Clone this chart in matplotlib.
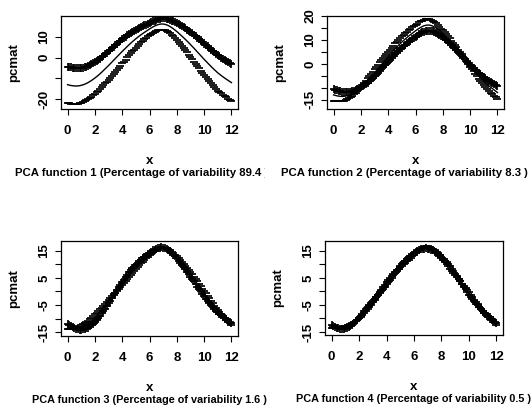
import numpy as np
import matplotlib
matplotlib.use("Agg")
import matplotlib.pyplot as plt
from matplotlib.transforms import Bbox, TransformedBbox

plt.rcParams['font.family'] = ['Liberation Sans', 'DejaVu Sans']

# evaluation grid (months)
months = np.arange(0, 12.001, 0.125)

# mean curve
mean_curve = [-13.0, -13.2, -13.4, -13.5, -13.6, -13.65, -13.6, -13.5, -13.3,
              -13.05, -12.8, -12.4, -12.0, -11.5, -11.0, -10.4, -9.8,
              -9.15, -8.5, -7.75, -7.0, -6.2, -5.4, -4.6, -3.8,
              -2.95, -2.1, -1.25, -0.4, 0.45, 1.3, 2.15, 3.0,
              3.8, 4.6, 5.4, 6.2, 6.95, 7.7, 8.4, 9.1,
              9.75, 10.4, 11.0, 11.6, 12.15, 12.7, 13.25, 13.8,
              14.3, 14.8, 15.2, 15.6, 15.9, 16.1, 16.2, 16.2,
              16.05, 15.8, 15.45, 15.0, 14.45, 13.9, 13.25, 12.6,
              11.85, 11.1, 10.35, 9.6, 8.8, 8.0, 7.15, 6.3,
              5.45, 4.6, 3.7, 2.8, 1.9, 1.0, 0.1, -0.8,
              -1.65, -2.5, -3.35, -4.2, -5.0, -5.8, -6.55, -7.3,
              -7.95, -8.6, -9.2, -9.8, -10.35, -10.9, -11.45, -12.0]

# perturbation (factor * PC function) for each component
pert1 = [8.7, 8.7, 8.7, 8.65, 8.6, 8.55, 8.5, 8.45, 8.4,
         8.3, 8.2, 8.1, 8.0, 7.9, 7.8, 7.7, 7.6,
         7.5, 7.4, 7.3, 7.2, 7.1, 7.0, 6.9, 6.8,
         6.7, 6.6, 6.5, 6.4, 6.25, 6.1, 5.95, 5.8,
         5.65, 5.5, 5.3, 5.1, 4.9, 4.7, 4.5, 4.3,
         4.1, 3.9, 3.7, 3.5, 3.35, 3.2, 3.05, 2.9,
         2.8, 2.7, 2.65, 2.6, 2.6, 2.6, 2.65, 2.7,
         2.8, 2.9, 3.05, 3.2, 3.4, 3.6, 3.8, 4.0,
         4.25, 4.5, 4.75, 5.0, 5.25, 5.5, 5.75, 6.0,
         6.25, 6.5, 6.7, 6.9, 7.1, 7.3, 7.45, 7.6,
         7.75, 7.9, 8.0, 8.1, 8.2, 8.3, 8.4, 8.5,
         8.55, 8.6, 8.65, 8.7, 8.75, 8.8, 8.8, 8.8]
pert2 = [2.4, 2.35, 2.3, 2.2, 2.1, 1.95, 1.8, 1.65, 1.5,
         1.3, 1.1, 0.9, 0.7, 0.5, 0.3, 0.1, -0.1,
         -0.3, -0.5, -0.7, -0.9, -1.05, -1.2, -1.35, -1.5,
         -1.6, -1.7, -1.8, -1.9, -1.95, -2.0, -2.05, -2.1,
         -2.15, -2.2, -2.25, -2.3, -2.3, -2.35, -2.35, -2.4,
         -2.4, -2.4, -2.45, -2.45, -2.5, -2.5, -2.5, -2.5,
         -2.5, -2.5, -2.5, -2.5, -2.5, -2.45, -2.4, -2.35,
         -2.25, -2.15, -2.05, -1.95, -1.8, -1.65, -1.5, -1.4,
         -1.3, -1.2, -1.1, -1.0, -0.9, -0.8, -0.7, -0.6,
         -0.5, -0.4, -0.3, -0.2, -0.05, 0.1, 0.25, 0.4,
         0.55, 0.7, 0.85, 1.0, 1.2, 1.4, 1.55, 1.7,
         1.85, 2.0, 2.15, 2.3, 2.4, 2.5, 2.6, 2.7]
pert3 = [0.9, 0.75, 0.6, 0.35, 0.1, -0.15, -0.4, -0.6, -0.8,
         -0.95, -1.1, -1.2, -1.3, -1.35, -1.4, -1.4, -1.4,
         -1.35, -1.3, -1.2, -1.1, -1.0, -0.9, -0.75, -0.6,
         -0.45, -0.3, -0.15, 0.0, 0.15, 0.3, 0.4, 0.5,
         0.6, 0.7, 0.75, 0.8, 0.8, 0.8, 0.8, 0.8,
         0.75, 0.7, 0.65, 0.6, 0.55, 0.5, 0.45, 0.4,
         0.35, 0.3, 0.25, 0.2, 0.15, 0.1, 0.05, 0.0,
         -0.05, -0.1, -0.15, -0.2, -0.25, -0.3, -0.35, -0.4,
         -0.45, -0.5, -0.55, -0.6, -0.65, -0.7, -0.75, -0.8,
         -0.85, -0.9, -0.95, -1.0, -1.0, -1.0, -1.0, -1.0,
         -0.95, -0.9, -0.85, -0.8, -0.7, -0.6, -0.5, -0.4,
         -0.3, -0.2, -0.1, 0.0, 0.1, 0.2, 0.3, 0.4]
pert4 = [0.5, 0.4, 0.3, 0.15, 0.0, -0.15, -0.3, -0.35, -0.4,
         -0.4, -0.4, -0.35, -0.3, -0.2, -0.1, 0.0, 0.1,
         0.2, 0.3, 0.35, 0.4, 0.4, 0.4, 0.35, 0.3,
         0.2, 0.1, 0.0, -0.1, -0.2, -0.3, -0.35, -0.4,
         -0.4, -0.4, -0.35, -0.3, -0.2, -0.1, 0.0, 0.1,
         0.2, 0.3, 0.35, 0.4, 0.4, 0.4, 0.35, 0.3,
         0.2, 0.1, 0.0, -0.1, -0.2, -0.3, -0.35, -0.4,
         -0.4, -0.4, -0.35, -0.3, -0.2, -0.1, 0.0, 0.1,
         0.2, 0.3, 0.35, 0.4, 0.4, 0.4, 0.35, 0.3,
         0.2, 0.1, 0.0, -0.1, -0.2, -0.3, -0.35, -0.4,
         -0.4, -0.4, -0.35, -0.3, -0.2, -0.1, 0.0, 0.1,
         0.15, 0.2, 0.25, 0.3, 0.3, 0.3, 0.3, 0.3]

variability = ["89.4", "8.3", "1.6", "0.5"]
xticks = [0, 2, 4, 6, 8, 10, 12]

yticks_list = [
    ([-20, -10, 0, 10], ["-20", "", "0", "10"]),
    ([-15, -10, -5, 0, 5, 10, 15, 20], ["-15", "", "", "0", "", "10", "", "20"]),
    ([-15, -10, -5, 0, 5, 10, 15], ["-15", "", "-5", "", "5", "", "15"]),
    ([-15, -10, -5, 0, 5, 10, 15], ["-15", "", "-5", "", "5", "", "15"]),
]
ylims = [(-24.7, 20.05), (-18.9, 20.0), (-16.4, 18.6), (-16.1, 18.6)]
perts = [pert1, pert2, pert3, pert4]

W, H = 532, 408
fig = plt.figure(figsize=(W / 100, H / 100), dpi=100)

# boxes in pixels: left, right, top, bottom
boxes = [(61, 238, 16, 109), (327, 504, 16, 109), (61, 238, 241, 336), (325, 503, 241, 335)]
clips = [(0, 265), (266, 532), (0, 268), (268, 532)]
title_left = [15, 281, None, None]
title_size = [8.2, 8.2, 7.8, 7.8]

mean_arr = np.array(mean_curve)
for i in range(4):
    l, r, t, b = boxes[i]
    ax = fig.add_axes([l / W, 1 - b / H, (r - l) / W, (b - t) / H])
    p = np.array(perts[i])
    ax.plot(months, mean_arr, color='black', lw=1.0)
    ax.plot(months, mean_arr + p, linestyle='none', marker='+', ms=6.2,
            mew=1.25, color='black')
    ax.plot(months, mean_arr - p, linestyle='none', marker='_', ms=6.2,
            mew=1.25, color='black')
    ax.set_xlim(-0.48, 12.48)
    ax.set_ylim(*ylims[i])
    ax.set_xticks(xticks)
    ax.set_xticklabels([str(v) for v in xticks], fontsize=9.5, fontweight='bold')
    yt, yl = yticks_list[i]
    ax.set_yticks(yt)
    ax.set_yticklabels(yl, fontsize=9.5, fontweight='bold', rotation=90, va='center')
    ax.tick_params(direction='out', length=4.5, width=0.8, pad=3)
    ax.tick_params(axis='x', pad=7)
    for s in ax.spines.values():
        s.set_linewidth(0.9)
    ax.set_ylabel("pcmat", fontsize=9.5, fontweight='bold', labelpad=13)
    cx = (l + r) / 2 / W
    fig.text(cx, 1 - (b + 52) / H, "x", ha='center', va='center',
             fontsize=9.5, fontweight='bold')
    label = "PCA function %d (Percentage of variability %s )" % (i + 1, variability[i])
    if title_left[i] is None:
        tt = fig.text(cx, 1 - (b + 64) / H, label, ha='center', va='center',
                      fontsize=title_size[i], fontweight='bold')
    else:
        tt = fig.text(title_left[i] / W, 1 - (b + 64) / H, label, ha='left',
                      va='center', fontsize=title_size[i], fontweight='bold')
    c0, c1 = clips[i]
    tt.set_clip_box(TransformedBbox(Bbox([[c0 / W, 0], [c1 / W, 1]]), fig.transFigure))
    tt.set_clip_on(True)

fig.savefig("out.png", dpi=100)
